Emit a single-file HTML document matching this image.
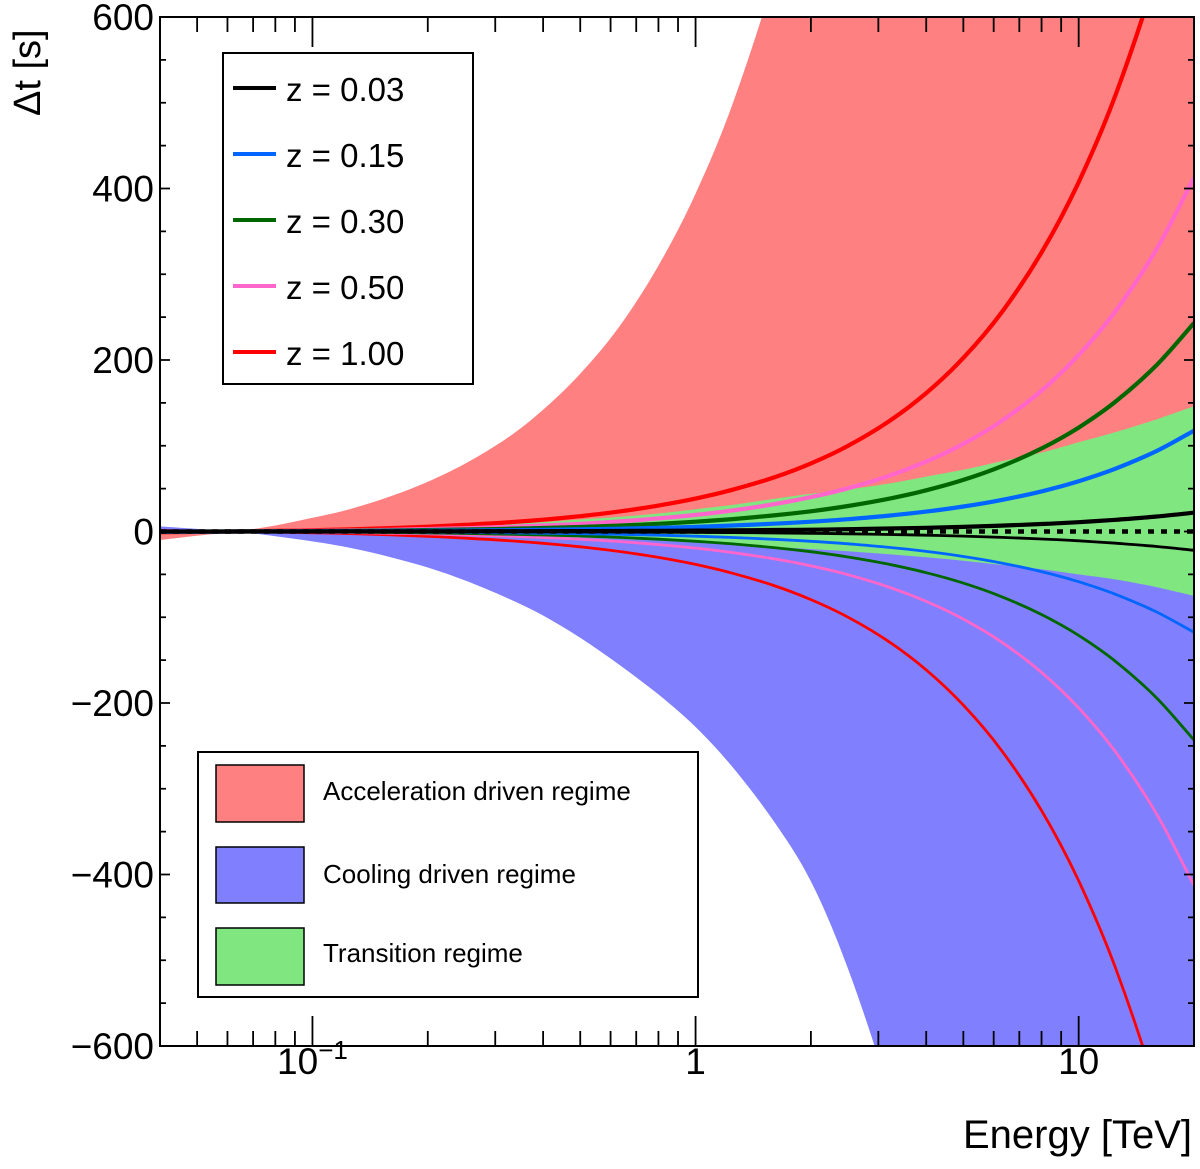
<!DOCTYPE html>
<html><head><meta charset="utf-8"><style>
html,body{margin:0;background:#fff;width:1200px;height:1169px;overflow:hidden}
svg{display:block;overflow:hidden}
text{font-family:"Liberation Sans","DejaVu Sans",sans-serif;fill:#000}
</style></head><body>
<svg id="chart" width="1200" height="1169" viewBox="0 0 1200 1169" xmlns="http://www.w3.org/2000/svg">
<defs><clipPath id="plotclip"><rect x="160" y="17" width="1034" height="1029"/></clipPath></defs>
<g id="bands" clip-path="url(#plotclip)"></g>
<g id="lines" clip-path="url(#plotclip)"></g>
<g id="axes"></g>
<text transform="translate(40,116) rotate(-90)" font-size="38">Δt [s]</text>
<text x="1192" y="1148" font-size="40" text-anchor="end">Energy [TeV]</text>
<g>
<rect x="223" y="53" width="250" height="331" fill="#fff" stroke="#000" stroke-width="2"/>
<line x1="233" y1="88" x2="276" y2="88" stroke="#000" stroke-width="4"/><text x="286" y="101" font-size="33">z = 0.03</text>
<line x1="233" y1="154" x2="276" y2="154" stroke="#0066ff" stroke-width="4"/><text x="286" y="167" font-size="33">z = 0.15</text>
<line x1="233" y1="220" x2="276" y2="220" stroke="#006600" stroke-width="4"/><text x="286" y="233" font-size="33">z = 0.30</text>
<line x1="233" y1="286" x2="276" y2="286" stroke="#ff66cc" stroke-width="4"/><text x="286" y="299" font-size="33">z = 0.50</text>
<line x1="233" y1="352" x2="276" y2="352" stroke="#ff0000" stroke-width="4"/><text x="286" y="365" font-size="33">z = 1.00</text>
</g>
<g>
<rect x="198" y="752" width="500" height="245" fill="#fff" stroke="#000" stroke-width="2"/>
<rect x="216" y="765" width="88" height="57" fill="#ff8080" stroke="#000" stroke-width="1.5"/>
<text x="323" y="800" font-size="26">Acceleration driven regime</text>
<rect x="216" y="847" width="88" height="56" fill="#8080ff" stroke="#000" stroke-width="1.5"/>
<text x="323" y="883" font-size="26">Cooling driven regime</text>
<rect x="216" y="928" width="88" height="57" fill="#80e680" stroke="#000" stroke-width="1.5"/>
<text x="323" y="962" font-size="26">Transition regime</text>
</g>
</svg>
<script>
const energies = [0.04,0.05,0.063,0.08,0.1,0.125,0.16,0.2,0.25,0.32,0.4,0.5,0.63,0.8,1,1.25,1.6,2,2.5,3.2,4,5,6.3,8,10,12.5,16,20];
const accelUpper = [-10,-5,0,7,16,26,41,58,79,108,142,184,238,310,394,499,646,814,1024,1318,1654,2074,2620,3334,4174,5224,6694,8374];
const coolLower = [6,3,0,-5.5,-11.5,-19,-30,-42,-57,-77,-98,-124,-155,-190,-228,-275,-338,-408,-510,-655,-820,-1035,-1300,-1650,-2050,-2560,-3280,-4100];
const transUpper = [-1,-0.5,0,1,2,3,4,6,7,9,11,14,17,21,26,31,38,44,49,56,64,72,82,92,104,116,131,146];
const transLower = [0.5,0.3,0,-0.5,-1,-1.5,-2,-3,-3.5,-4.5,-5.5,-7,-8.5,-10.5,-13,-15.5,-18,-20.5,-23,-26.5,-30,-34,-39,-44,-50,-56,-65,-75];
const z100Upper = [-0.9,-0.5,0,0.7,1.5,2.5,4,5.6,7.7,10.5,13.8,17.9,23.2,30.2,38.4,48.7,63,79.4,99.9,128.6,161.4,202.4,255.7,325.4,407.4,509.9,653.4,817.4];
const z050Upper = [-0.5,-0.3,0,0.4,0.8,1.3,2,2.8,3.9,5.3,7,9,11.7,15.3,19.4,24.6,31.8,40.1,50.4,64.9,81.5,102.2,129.1,164.3,205.7,257.4,329.9,412.7];
const z030Upper = [-0.3,-0.2,0,0.2,0.5,0.8,1.2,1.7,2.3,3.1,4.1,5.3,6.9,9,11.4,14.5,18.8,23.6,29.7,38.3,48,60.2,76.1,96.8,121.2,151.7,194.4,243.2];
const z015Upper = [-0.1,-0.1,0,0.1,0.2,0.4,0.6,0.8,1.1,1.5,2,2.6,3.3,4.3,5.5,7,9.1,11.4,14.4,18.5,23.2,29.1,36.8,46.8,58.6,73.4,94,117.6];
const z003Upper = [0,0,0,0,0,0.1,0.1,0.2,0.2,0.3,0.4,0.5,0.6,0.8,1,1.3,1.7,2.1,2.7,3.5,4.3,5.4,6.9,8.7,10.9,13.7,17.5,21.9];
const z100Lower = [0.9,0.5,0,-0.7,-1.5,-2.5,-4,-5.6,-7.7,-10.5,-13.8,-17.9,-23.2,-30.2,-38.4,-48.7,-63,-79.4,-99.9,-128.6,-161.4,-202.4,-255.7,-325.4,-407.4,-509.9,-653.4,-817.4];
const z050Lower = [0.5,0.3,0,-0.4,-0.8,-1.3,-2,-2.8,-3.9,-5.3,-7,-9,-11.7,-15.3,-19.4,-24.6,-31.8,-40.1,-50.4,-64.9,-81.5,-102.2,-129.1,-164.3,-205.7,-257.4,-329.9,-412.7];
const z030Lower = [0.3,0.2,0,-0.2,-0.5,-0.8,-1.2,-1.7,-2.3,-3.1,-4.1,-5.3,-6.9,-9,-11.4,-14.5,-18.8,-23.6,-29.7,-38.3,-48,-60.2,-76.1,-96.8,-121.2,-151.7,-194.4,-243.2];
const z015Lower = [0.1,0.1,0,-0.1,-0.2,-0.4,-0.6,-0.8,-1.1,-1.5,-2,-2.6,-3.3,-4.3,-5.5,-7,-9.1,-11.4,-14.4,-18.5,-23.2,-29.1,-36.8,-46.8,-58.6,-73.4,-94,-117.6];
const z003Lower = [0,0,0,0,0,-0.1,-0.1,-0.2,-0.2,-0.3,-0.4,-0.5,-0.6,-0.8,-1,-1.3,-1.7,-2.1,-2.7,-3.5,-4.3,-5.4,-6.9,-8.7,-10.9,-13.7,-17.5,-21.9];
const yTicks = [600,400,200,0,-200,-400,-600];
const yTickLabels = ["600","400","200","0","\u2212200","\u2212400","\u2212600"];
const xMajor = [0.1,1,10];

const NS="http://www.w3.org/2000/svg";
const X0=160,X1=1194,Y0=17,Y1=1046,EMIN=0.04,EMAX=20,TMIN=-600,TMAX=600;
function xs(e){return X0+(Math.log10(e)-Math.log10(EMIN))/(Math.log10(EMAX)-Math.log10(EMIN))*(X1-X0);}
function ys(v){return Y1-(v-TMIN)/(TMAX-TMIN)*(Y1-Y0);}
function mk(tag,attrs,parent){const el=document.createElementNS(NS,tag);for(const k in attrs)el.setAttribute(k,attrs[k]);parent.appendChild(el);return el;}
function curveThrough(p,start){
  let d=(start?"M":" L")+p[0][0].toFixed(1)+","+p[0][1].toFixed(1);
  for(let i=0;i<p.length-1;i++){
    const a=p[Math.max(0,i-1)],b=p[i],c=p[i+1],dd=p[Math.min(p.length-1,i+2)];
    const c1=[b[0]+(c[0]-a[0])/6,b[1]+(c[1]-a[1])/6],c2=[c[0]-(dd[0]-b[0])/6,c[1]-(dd[1]-b[1])/6];
    d+=" C"+c1.map(v=>v.toFixed(1)).join(",")+" "+c2.map(v=>v.toFixed(1)).join(",")+" "+c[0].toFixed(1)+","+c[1].toFixed(1);
  }
  return d;
}
function pts(vals){return energies.map((e,i)=>[xs(e),ys(vals[i])]);}
function linePath(vals){return curveThrough(pts(vals),true);}
function bandPath(upper,lower){return curveThrough(pts(upper),true)+curveThrough(pts(lower).reverse(),false)+" Z";}
const zeros=energies.map(()=>0);
const bands=document.getElementById('bands');
let b1=mk('path',{d:bandPath(accelUpper,zeros),fill:'#ff8080'},bands);


let b2=mk('path',{d:bandPath(zeros,coolLower),fill:'#8080ff'},bands);


let b3=mk('path',{d:bandPath(transUpper,transLower),fill:'#80e680'},bands);



const lines=document.getElementById('lines');
const lowerSeries=[[z100Lower,'#ff0000','z100-lower'],[z050Lower,'#ff66cc','z050-lower'],[z030Lower,'#006600','z030-lower'],[z015Lower,'#0066ff','z015-lower'],[z003Lower,'#000000','z003-lower']];
for(const s of lowerSeries){
  const el=mk('path',{d:linePath(s[0]),fill:'none',stroke:s[1],'stroke-width':2.8},lines);
  
  
}
const upperSeries=[[z100Upper,'#ff0000','z100-upper'],[z050Upper,'#ff66cc','z050-upper'],[z030Upper,'#006600','z030-upper'],[z015Upper,'#0066ff','z015-upper'],[z003Upper,'#000000','z003-upper']];
for(const s of upperSeries){
  const el=mk('path',{d:linePath(s[0]),fill:'none',stroke:s[1],'stroke-width':4.2},lines);
  
  
}
const zl=mk('line',{x1:X0,x2:X1,y1:ys(0),y2:ys(0),stroke:'#000','stroke-width':4.5,'stroke-dasharray':'6 7'},lines);



const axes=document.getElementById('axes');
const frame=mk('rect',{x:X0,y:Y0,width:X1-X0,height:Y1-Y0,fill:'none',stroke:'#000','stroke-width':2},axes);


let tk="";
for(let v=-600;v<=600;v+=50){
  const y=ys(v),L=(v%200===0)?10:6;
  tk+=`M${X0},${y}h${L}M${X1},${y}h${-L}`;
}
for(let dec=-2;dec<=1;dec++){
  for(let m=1;m<=9;m++){
    const e=m*Math.pow(10,dec);
    if(e<EMIN-1e-9||e>EMAX+1e-9)continue;
    const x=xs(e),L=m===1?30:15;
    tk+=`M${x},${Y0}v${L}M${x},${Y1}v${-L}`;
  }
}
const ticks=mk('path',{d:tk,stroke:'#000','stroke-width':1.8,fill:'none'},axes);


yTicks.forEach((v,i)=>{
  const t=mk('text',{x:154,y:ys(v)+13,'font-size':37,'text-anchor':'end'},axes);
  t.textContent=yTickLabels[i];
  
  
});
xMajor.forEach(e=>{
  const t=mk('text',{x:xs(e),y:1074,'font-size':37,'text-anchor':'middle'},axes);
  
  
  if(e===0.1){t.innerHTML='10<tspan dy="-15" font-size="26">\u22121</tspan>';}
  else t.textContent=String(e);
});
</script>
</body></html>
